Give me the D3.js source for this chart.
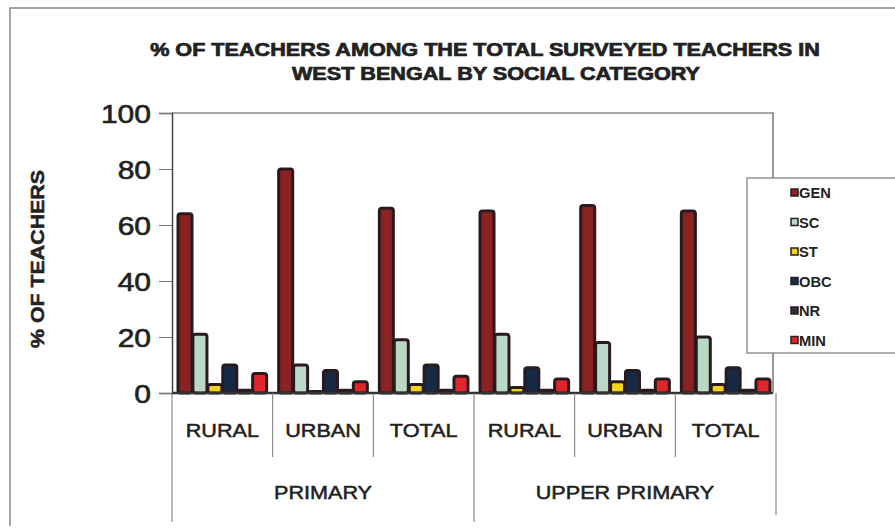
<!DOCTYPE html>
<html><head><meta charset="utf-8">
<script src="https://cdn.jsdelivr.net/npm/d3@7"></script>
<style>body{margin:0;background:#fff}svg{display:block}text{font-family:"Liberation Sans",Arial,sans-serif}</style>
</head><body><svg id="c" width="895" height="530"></svg>
<script>
const levels = ["PRIMARY", "UPPER PRIMARY"];
const areas = ["RURAL", "URBAN", "TOTAL"];
const series = ["GEN", "SC", "ST", "OBC", "NR", "MIN"];
const GEN = [64, 80, 66, 65, 67, 65];
const SC  = [21, 10, 19, 21, 18, 20];
const ST  = [3, 0.5, 3, 2, 4, 3];
const OBC = [10, 8, 10, 9, 8, 9];
const NR  = [1, 1, 1, 1, 1, 1];
const MIN = [7, 4, 6, 5, 5, 5];
const yTicks = [0, 20, 40, 60, 80, 100];
const colors = ["#8a2222", "#b9d9c6", "#f2d31c", "#172a45", "#3b2a3d", "#e0262b"];

const values = {GEN, SC, ST, OBC, NR, MIN};
const groups = [];
levels.forEach(l => areas.forEach(a => groups.push(l + "|" + a)));

const svg = d3.select("#c");
const pLeft = 172, pRight = 776, pTop = 113, pBottom = 393;
const STRETCH = 1.2;
function stretch(sel, k) {
  sel.each(function () {
    const len = this.getComputedTextLength();
    d3.select(this).attr("textLength", len * (k || STRETCH)).attr("lengthAdjust", "spacingAndGlyphs");
  });
}
function heavy(sel, w) {
  sel.attr("stroke", "#222").attr("stroke-width", w).attr("paint-order", "stroke");
}

// outer frame
svg.append("path").attr("d", "M10,526 L10,8 L895,8").attr("fill", "none").attr("stroke", "#888").attr("stroke-width", 1.5);

const t1 = svg.append("text").attr("x", 485).attr("y", 56).attr("text-anchor", "middle")
  .attr("font-size", 18).attr("font-weight", "bold").attr("fill", "#222")
  .text("% OF TEACHERS AMONG THE TOTAL SURVEYED TEACHERS IN");
const t2 = svg.append("text").attr("x", 496).attr("y", 80).attr("text-anchor", "middle")
  .attr("font-size", 18).attr("font-weight", "bold").attr("fill", "#222")
  .text("WEST BENGAL BY SOCIAL CATEGORY");
stretch(t1); stretch(t2); heavy(t1, 0.7); heavy(t2, 0.7);

const x0 = d3.scaleBand().domain(groups).range([pLeft, pRight]).padding(0);
const x1 = d3.scaleBand().domain(series).range([6, x0.bandwidth() - 6]).paddingInner(0.06);
const y = d3.scaleLinear().domain([0, 100]).range([pBottom, pTop]);

// plot frame
svg.append("path").attr("d", `M${pLeft},${pTop} L${pRight - 3},${pTop} L${pRight - 3},${pBottom}`)
  .attr("fill", "none").attr("stroke", "#555").attr("stroke-width", 1.2);

const yAxis = svg.append("g").attr("transform", `translate(${pLeft},0)`)
  .call(d3.axisLeft(y).tickValues(yTicks).tickSize(13).tickPadding(8));
yAxis.select(".domain").attr("stroke", "#444").attr("stroke-width", 1.5);
yAxis.selectAll("line").attr("stroke", "#777");
yAxis.selectAll("text").attr("font-size", 25).attr("fill", "#222").attr("dy", "0.36em")
  .style("font-family", "'Liberation Sans',Arial,sans-serif");
stretch(yAxis.selectAll("text"));
heavy(yAxis.selectAll("text"), 0.6);

const yt = svg.append("text").attr("transform", "translate(44,259) rotate(-90)").attr("text-anchor", "middle")
  .attr("font-size", 19).attr("font-weight", "bold").attr("fill", "#222").text("% OF TEACHERS");
yt.attr("textLength", 178).attr("lengthAdjust", "spacingAndGlyphs");
heavy(yt, 0.5);

// bars
const g = svg.append("g");
groups.forEach((grp, i) => {
  series.forEach((s, j) => {
    const v = values[s][i];
    g.append("rect")
      .attr("x", x0(grp) + x1(s))
      .attr("y", y(v))
      .attr("width", x1.bandwidth())
      .attr("height", pBottom - y(v))
      .attr("rx", 2.5)
      .attr("fill", colors[j])
      .attr("stroke", "#2a1a20").attr("stroke-width", 3);
  });
});

// baseline
svg.append("line").attr("x1", pLeft).attr("x2", pRight - 3).attr("y1", pBottom).attr("y2", pBottom)
  .attr("stroke", "#333").attr("stroke-width", 2.5);

// category axis
const cat = svg.append("g");
groups.forEach((grp, i) => {
  const xs = x0(grp);
  const outer = i % 3 === 0;
  cat.append("line").attr("x1", xs).attr("x2", xs).attr("y1", pBottom).attr("y2", outer ? 522 : 457)
    .attr("stroke", "#777").attr("stroke-width", 1);
  const tx = cat.append("text").attr("x", xs + x0.bandwidth() / 2).attr("y", 437).attr("text-anchor", "middle")
    .attr("font-size", 18).attr("fill", "#222").text(grp.split("|")[1]);
  stretch(tx); heavy(tx, 0.5);
});
cat.append("line").attr("x1", pRight).attr("x2", pRight).attr("y1", pBottom).attr("y2", 515)
  .attr("stroke", "#777");
levels.forEach((l, k) => {
  const cx = x0(groups[k * 3]) + x0.bandwidth() * 1.5;
  const tx = cat.append("text").attr("x", cx).attr("y", 499).attr("text-anchor", "middle")
    .attr("font-size", 18).attr("fill", "#222").text(l);
  stretch(tx); heavy(tx, 0.5);
});

// legend
const lg = svg.append("g");
lg.append("rect").attr("x", 747).attr("y", 178).attr("width", 160).attr("height", 175)
  .attr("fill", "#fff").attr("stroke", "#777").attr("stroke-width", 1.2);
series.forEach((s, j) => {
  const yy = 193 + j * 29.5;
  lg.append("rect").attr("x", 791).attr("y", yy - 4).attr("width", 7).attr("height", 7)
    .attr("fill", colors[j]).attr("stroke", "#222").attr("stroke-width", 1.5);
  const tx = lg.append("text").attr("x", 799).attr("y", yy + 5).attr("font-size", 14)
    .attr("font-weight", "bold").attr("fill", "#222").text(s);
  stretch(tx, 1.05);
});
</script></body></html>
